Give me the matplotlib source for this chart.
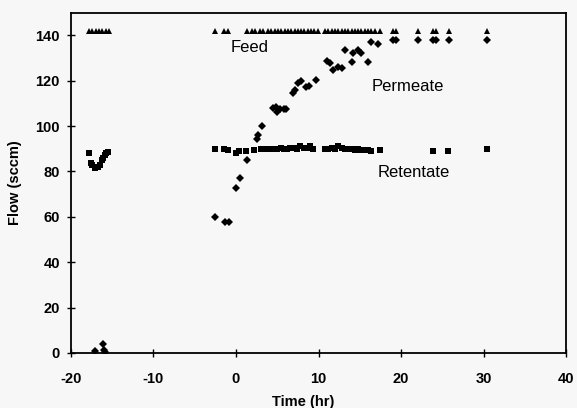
import matplotlib
matplotlib.use("Agg")
import matplotlib.pyplot as plt

plt.rcParams["axes.unicode_minus"] = False

# ---------------- data ----------------
feed_t = [-17.8, -17.4, -17.0, -16.6, -16.2, -15.8, -15.4,
          -2.6, -1.4, -1.0, 1.3, 1.9, 2.3, 2.9, 3.3, 3.9, 4.3, 4.7, 5.1, 5.5,
          5.9, 6.3, 6.7, 7.1, 7.5, 7.9, 8.3, 8.7, 9.1, 9.5, 9.9,
          10.8, 11.2, 11.6, 12.0, 12.4, 12.8, 13.2, 13.6, 14.0, 14.4, 14.8,
          15.2, 15.6, 16.0, 16.4, 16.8, 17.4, 19.0, 19.4, 22.1, 23.9, 24.3,
          25.8, 30.4]
feed_flow = [142, 142, 142, 142, 142, 142, 142,
             142, 142, 142, 142, 142, 142, 142, 142, 142, 142, 142, 142, 142,
             142, 142, 142, 142, 142, 142, 142, 142, 142, 142, 142,
             142, 142, 142, 142, 142, 142, 142, 142, 142, 142, 142,
             142, 142, 142, 142, 142, 142, 142, 142, 142, 142, 142,
             142, 142]

perm_t = [-17.1, -16.1, -16.0, -15.9,
          -2.6, -1.3, -0.9, 0.05, 0.45, 1.3, 2.5, 2.7, 3.2,
          4.5, 4.9, 5.0, 5.3, 5.8, 6.1, 6.9, 7.1, 7.5, 7.9, 8.5, 8.9, 9.7,
          11.0, 11.4, 11.8, 12.4, 12.9, 13.2, 14.0, 14.2, 14.8, 15.2, 16.0,
          16.4, 17.2, 19.0, 19.4, 22.1, 23.9, 24.3, 25.8, 30.4]
perm_flow = [1.0, 4.0, 1.5, 0.5,
             60.0, 57.5, 57.5, 72.5, 77.0, 85.0, 94.5, 96.0, 100.0,
             107.8, 108.5, 106.4, 107.4, 107.6, 107.4, 114.4, 115.8, 118.8,
             119.8, 117.3, 117.6, 120.3,
             128.8, 127.9, 124.7, 126.1, 125.4, 133.5, 128.3, 132.0, 133.5,
             132.0, 128.3, 137.1, 136.0, 138.0, 138.0, 138.0, 138.0, 138.0,
             138.0, 138.0]

ret_t = [-17.8, -17.6, -17.4, -17.1, -16.7, -16.5, -16.3, -16.1, -15.9,
         -15.7, -15.5,
         -2.6, -1.4, -1.0, 0.0, 0.4, 1.2, 2.2, 3.0,
         3.8, 4.2, 4.6, 5.0, 5.4, 5.8, 6.2, 6.6, 7.0, 7.4, 7.8, 8.2, 8.6,
         9.0, 9.3,
         10.8, 11.2, 11.6, 12.0, 12.4, 12.8, 13.2, 13.6, 14.0, 14.4, 14.8,
         15.2, 15.6, 16.0, 16.4, 17.4, 23.9, 25.7, 30.4]
ret_flow = [88.0, 83.6, 82.8, 81.4, 82.1, 82.8, 85.0, 85.8, 87.2, 88.0, 88.7,
            90.0, 90.0, 89.5, 88.2, 89.0, 89.0, 89.5, 90.0,
            90.0, 90.0, 90.0, 90.0, 90.5, 90.0, 90.0, 90.5, 90.5, 90.0, 91.0,
            90.5, 90.5, 91.0, 90.0,
            90.0, 90.0, 90.5, 90.0, 91.0, 90.5, 90.0, 90.0, 90.0, 89.5, 90.0,
            89.5, 89.5, 89.5, 89.0, 89.5, 89.0, 89.0, 90.0]

x_ticks = [-20, -10, 0, 10, 20, 30, 40]
y_ticks = [0, 20, 40, 60, 80, 100, 120, 140]

# ---------------- figure ----------------
bg = "#f7f7f7"
fig = plt.figure(figsize=(5.77, 4.08), dpi=100, facecolor=bg)
ax = fig.add_axes([0.123, 0.135, 0.858, 0.834], facecolor=bg)

ax.plot(feed_t, feed_flow, linestyle="none", marker="^", color="black",
        markersize=4.8, markeredgewidth=0)
ax.plot(perm_t, perm_flow, linestyle="none", marker="D", color="black",
        markersize=4.0, markeredgewidth=0)
ax.plot(ret_t, ret_flow, linestyle="none", marker="s", color="black",
        markersize=4.0, markeredgewidth=0)

ax.set_xlim(-20, 40)
ax.set_ylim(0, 150)
ax.set_xticks(x_ticks)
ax.set_yticks(y_ticks)

for s in ax.spines.values():
    s.set_linewidth(1.3)
    s.set_color("black")

ax.tick_params(axis="both", direction="inout", length=6, width=1.0,
               colors="black")
ax.tick_params(axis="x", pad=11)
ax.tick_params(axis="y", pad=5)

for lab in ax.get_xticklabels() + ax.get_yticklabels():
    lab.set_fontfamily("Liberation Sans")
    lab.set_fontweight("bold")
    lab.set_fontsize(10.5)

ax.set_xlabel("Time (hr)", fontfamily="Liberation Sans", fontweight="bold",
              fontsize=10.5)
ax.set_ylabel("Flow (sccm)", fontfamily="Liberation Sans", fontweight="bold",
              fontsize=10.5)
ax.xaxis.set_label_coords(0.469, -0.123)
ax.yaxis.set_label_coords(-0.099, 0.5)

ann = dict(fontfamily="Liberation Sans", fontsize=12, ha="center",
           va="baseline", color="black")
ax.text(1.7, 132.7, "Feed", **ann)
ax.text(20.85, 115.5, "Permeate", **ann)
ax.text(21.5, 77.7, "Retentate", **ann)

fig.savefig("out.png", dpi=100, facecolor=bg)
